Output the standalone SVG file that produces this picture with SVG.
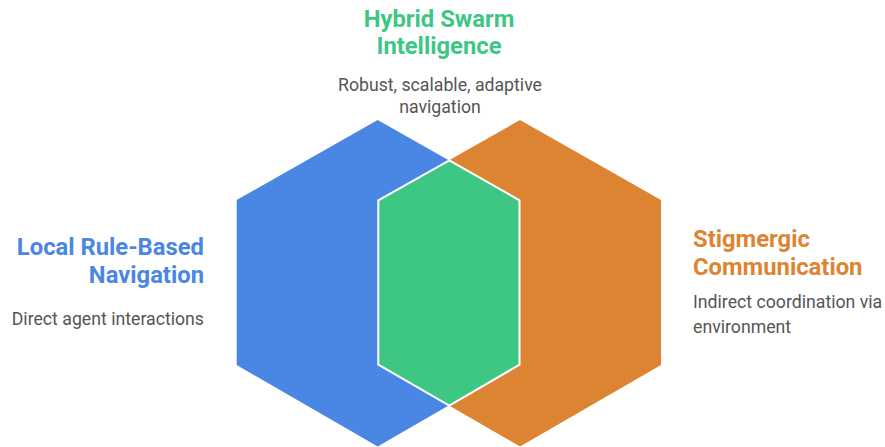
<svg xmlns="http://www.w3.org/2000/svg" width="885" height="447" viewBox="0 0 885 447">
<style>
.t{font-family:Roboto,"Liberation Sans",sans-serif;font-weight:bold;font-size:23.8px}
.d{font-family:Roboto,"Liberation Sans",sans-serif;font-size:17.7px;fill:#555555}
</style>
<rect width="885" height="447" fill="#ffffff"/>
<g id="local">
<polygon points="377.7,120 518.7,200 518.7,365 377.7,446.5 236.7,365 236.7,200" fill="#4A86E4"/>
<text class="t" fill="#4A86E4" text-anchor="end" x="204" y="255">Local Rule-Based</text>
<text class="t" fill="#4A86E4" text-anchor="end" x="204" y="283">Navigation</text>
<text class="d" text-anchor="end" x="204" y="325">Direct agent interactions</text>
</g>
<g id="stigmergic">
<polygon points="520,120 661,200 661,365 520,446.5 379,365 379,200" fill="#DD8433"/>
<text class="t" fill="#DD8433" x="693" y="247">Stigmergic</text>
<text class="t" fill="#DD8433" x="693" y="275">Communication</text>
<text class="d" x="693" y="308">Indirect coordination via</text>
<text class="d" x="693" y="333">environment</text>
</g>
<g id="hybrid">
<polygon points="449.3,160.3 519.5,200.3 519.5,364.7 449.3,405.5 378.3,364.7 378.3,200.3" fill="#3EC685" stroke="#ffffff" stroke-width="2"/>
<text class="t" fill="#3EC685" text-anchor="middle" x="439" y="27">Hybrid Swarm</text>
<text class="t" fill="#3EC685" text-anchor="middle" x="439" y="54">Intelligence</text>
<text class="d" text-anchor="middle" x="440" y="91">Robust, scalable, adaptive</text>
<text class="d" text-anchor="middle" x="440" y="113">navigation</text>
</g>
<g id="connectors"></g>
</svg>
